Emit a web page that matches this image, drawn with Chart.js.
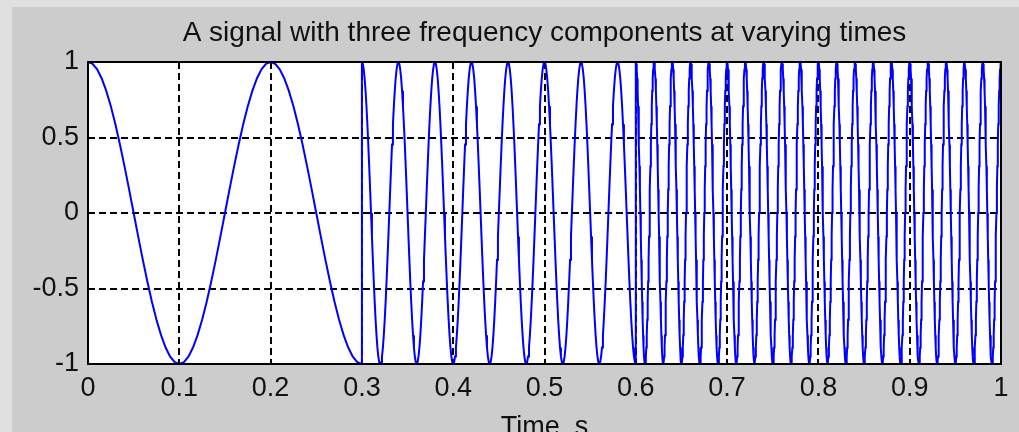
<!DOCTYPE html>
<html><head><meta charset="utf-8">
<script src="https://cdn.jsdelivr.net/npm/chart.js@4.4.1/dist/chart.umd.min.js"></script>
<style>html,body{margin:0;padding:0;background:#e0e0e0;overflow:hidden}</style>
</head><body>
<canvas id="c" width="1019" height="432"></canvas>
<script>
// ---- data ----
const segmentStart = [0, 0.3, 0.6];      // s
const segmentEnd   = [0.3, 0.6, 1.0];    // s
const segmentFreq  = [5, 25, 50];        // Hz (from peak spacing)
// one period of the waveform, 40 samples per period
const cycleValues = [1, 0.9877, 0.9511, 0.8910, 0.8090, 0.7071, 0.5878, 0.4540, 0.3090, 0.1564,
  0, -0.1564, -0.3090, -0.4540, -0.5878, -0.7071, -0.8090, -0.8910, -0.9511, -0.9877,
  -1, -0.9877, -0.9511, -0.8910, -0.8090, -0.7071, -0.5878, -0.4540, -0.3090, -0.1564,
  0, 0.1564, 0.3090, 0.4540, 0.5878, 0.7071, 0.8090, 0.8910, 0.9511, 0.9877];
const xTickLabels = ['0','0.1','0.2','0.3','0.4','0.5','0.6','0.7','0.8','0.9','1'];
const yTickLabels = ['-1','-0.5','0','0.5','1'];
const titleText = 'A signal with three frequency components at varying times';
const xTitle = 'Time, s';

// build the series by stepping through each segment's cycle
const points = [];
for (let s = 0; s < segmentStart.length; s++) {
  const n = cycleValues.length;
  const step = 1 / (segmentFreq[s] * n);
  const count = Math.round((segmentEnd[s] - segmentStart[s]) / step);
  for (let k = 0; k <= count; k++) {
    points.push({x: segmentStart[s] + k * step, y: cycleValues[k % n]});
  }
}

const FONT = '"Liberation Sans", Arial, sans-serif';

const framePlugin = {
  id: 'frame',
  beforeDraw(chart) {
    const {ctx, chartArea: a, width, height} = chart;
    ctx.save();
    ctx.fillStyle = '#e0e0e0'; ctx.fillRect(0, 0, width, height);
    ctx.fillStyle = '#cccccc'; ctx.fillRect(12, 7, width - 12, height - 7);
    ctx.fillStyle = '#ffffff'; ctx.fillRect(a.left, a.top, a.right - a.left, a.bottom - a.top);
    ctx.restore();
  },
  afterDraw(chart) {
    const {ctx, chartArea: a} = chart;
    ctx.save();
    ctx.strokeStyle = '#000'; ctx.lineWidth = 2;
    ctx.strokeRect(a.left, a.top, a.right - a.left, a.bottom - a.top);
    ctx.restore();
  }
};

new Chart(document.getElementById('c'), {
  type: 'line',
  data: { datasets: [{ data: points, borderColor: '#0000ff', borderWidth: 2, pointRadius: 0, tension: 0, fill: false }] },
  options: {
    responsive: false, animation: false, devicePixelRatio: 1,
    layout: { padding: { left: 0, right: 18, top: 7, bottom: 0 } },
    plugins: {
      legend: { display: false }, tooltip: { enabled: false },
      title: { display: true, text: titleText, fullSize: false, color: '#111',
        font: { family: FONT, size: 28, weight: 'normal' }, padding: { top: 9.5, bottom: 11.9 } }
    },
    scales: {
      x: { type: 'linear', min: 0, max: 1,
        afterFit(scale) { scale.height = 68; },
        grid: { color: '#000', lineWidth: 2, drawTicks: false },
        border: { display: false, dash: [7, 4] },
        ticks: { stepSize: 0.1, autoSkip: false, maxRotation: 0, padding: 8, color: '#111',
          font: { family: FONT, size: 27 },
          callback: (v, i) => xTickLabels[i] },
        title: { display: true, text: xTitle, color: '#111', font: { family: FONT, size: 27 }, padding: { top: 0, bottom: -12 } }
      },
      y: { min: -1, max: 1,
        afterFit(scale) { scale.width = 88; },
        grid: { color: '#000', lineWidth: 2, drawTicks: false },
        border: { display: false, dash: [7, 4] },
        ticks: { stepSize: 0.5, padding: 9, color: '#111', font: { family: FONT, size: 27 },
          callback: (v, i) => yTickLabels[i] }
      }
    }
  },
  plugins: [framePlugin]
});
</script>
</body></html>
